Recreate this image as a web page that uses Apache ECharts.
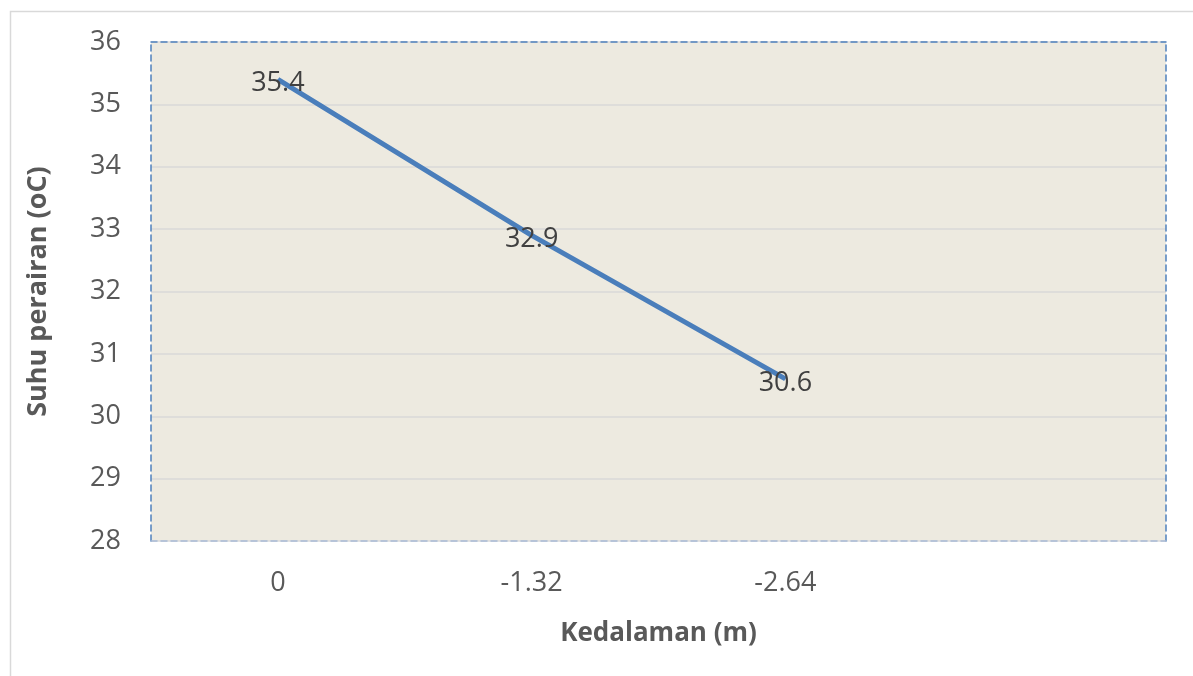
<!DOCTYPE html>
<html>
<head>
<meta charset="utf-8">
<script src="https://cdn.jsdelivr.net/npm/echarts@6/dist/echarts.min.js"></script>
<style>html,body{margin:0;padding:0;background:#fff;}#c{width:1193px;height:676px;}</style>
</head>
<body>
<div id="c"></div>
<script>
const categories = ['0', '-1.32', '-2.64', ''];
const temps = [35.4, 32.9, 30.6, null];
const yMin = 28, yMax = 36, yStep = 1;
const xTitle = 'Kedalaman (m)';
const yTitle = 'Suhu perairan (oC)';

const font = '"Open Sans", "Noto Sans", sans-serif';
const chart = echarts.init(document.getElementById('c'));
const dashed = {show: true, lineStyle: {color: '#4F81BD', width: 1.5, type: [6, 4]}};
chart.setOption({
  animation: false,
  graphic: [{type: 'rect', left: 8, top: 9, shape: {width: 1190, height: 680}, style: {fill: 'none', stroke: '#D9D9D9', lineWidth: 1.5}, z: -10}],
  grid: {left: 151, top: 42, width: 1015, height: 499, show: true, backgroundColor: '#EDEAE0', borderWidth: 0},
  xAxis: [{
    type: 'category', data: categories, boundaryGap: true,
    axisLine: {show: true, lineStyle: {color: '#A9BBD6', width: 1.5, type: [6, 4]}},
    axisTick: {show: false},
    axisLabel: {color: '#595959', fontSize: 27, fontFamily: font, margin: 29},
    name: xTitle, nameLocation: 'middle', nameGap: 80,
    nameTextStyle: {color: '#595959', fontSize: 26, fontWeight: 'bold', fontFamily: font}
  }, {
    type: 'category', data: categories, position: 'top', axisLine: dashed,
    axisTick: {show: false}, axisLabel: {show: false}
  }],
  yAxis: [{
    type: 'value', min: yMin, max: yMax, interval: yStep,
    axisLine: dashed, axisTick: {show: false},
    splitLine: {show: true, lineStyle: {color: '#D9D9D9', width: 1.5}},
    axisLabel: {color: '#595959', fontSize: 27, fontFamily: font, margin: 30},
    name: yTitle, nameLocation: 'middle', nameGap: 99,
    nameTextStyle: {color: '#595959', fontSize: 27, fontWeight: 'bold', fontFamily: font}
  }, {
    type: 'value', min: yMin, max: yMax, interval: yStep, position: 'right',
    axisLine: dashed, axisTick: {show: false}, axisLabel: {show: false}, splitLine: {show: false}
  }],
  series: [{
    type: 'line', data: temps, xAxisIndex: 0, yAxisIndex: 0,
    showSymbol: true, symbol: 'circle', symbolSize: 1,
    itemStyle: {color: '#4A7EBB'},
    lineStyle: {color: '#4A7EBB', width: 5},
    label: {show: true, position: 'inside', offset: [0, 4], color: '#404040', fontSize: 27, fontFamily: font}
  }]
});
</script>
</body>
</html>
